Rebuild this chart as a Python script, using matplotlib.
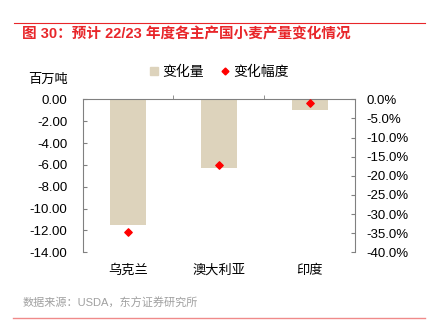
import matplotlib.pyplot as plt
from matplotlib.lines import Line2D
from matplotlib.ticker import FuncFormatter

plt.rcParams['font.family'] = ['Liberation Sans', 'Noto Sans CJK SC']

countries = ['乌克兰', '澳大利亚', '印度']
change = [-11.5, -6.3, -1.0]          # 百万吨
change_pct = [-0.348, -0.173, -0.009]  # 变化幅度

bar_color = '#DDD3BC'
grey = '#808080'

fig = plt.figure(figsize=(4.3, 3.28), dpi=100)
ax = fig.add_axes([0.192, 0.231, 0.634, 0.466])

x = range(len(countries))
ax.bar(x, change, width=0.4, color=bar_color)
ax.set_xlim(-0.5, 2.5)
ax.set_ylim(-14, 0)
ax.set_yticks([0, -2, -4, -6, -8, -10, -12, -14])
ax.yaxis.set_major_formatter(FuncFormatter(lambda v, p: f'{v:.2f}'))
ax.set_xticks(list(x))
ax.set_xticklabels(countries, fontsize=9.5)
ax.set_xticks([0.5, 1.5], minor=True)
ax.tick_params(axis='x', which='major', length=0, pad=9)
ax.tick_params(axis='x', which='minor', top=True, bottom=False, direction='out', length=3, color=grey)
ax.tick_params(axis='y', direction='in', length=3, color=grey, labelsize=9.5, pad=11)
for s in ['bottom', 'right']:
    ax.spines[s].set_visible(False)
for s in ['top', 'left']:
    ax.spines[s].set_color(grey)
    ax.spines[s].set_linewidth(0.8)

ax2 = ax.twinx()
ax2.scatter(x, change_pct, marker='D', s=14, color='#FF0000', zorder=3)
ax2.set_ylim(-0.40, 0)
ax2.set_yticks([0, -0.05, -0.10, -0.15, -0.20, -0.25, -0.30, -0.35, -0.40])
ax2.yaxis.set_major_formatter(FuncFormatter(lambda v, p: f'{v*100:.1f}%'))
ax2.tick_params(axis='y', direction='in', length=3, color=grey, labelsize=9.5, pad=8)
for s in ['bottom', 'left', 'top']:
    ax2.spines[s].set_visible(False)
ax2.spines['right'].set_color(grey)
ax2.spines['right'].set_linewidth(0.8)

handles = [Line2D([], [], marker='s', color=bar_color, linestyle='', markersize=5.5, label='变化量'),
           Line2D([], [], marker='D', color='#FF0000', linestyle='', markersize=3.5, label='变化幅度')]
fig.legend(handles=handles, loc='center', bbox_to_anchor=(0.51, 0.78), ncol=2, frameon=False,
           fontsize=10, handlelength=0.6, handletextpad=0.3, columnspacing=1.2)

fig.text(0.065, 0.758, '百万吨', fontsize=9.5, va='center')

fig.text(0.052, 0.896, '图 30：预计 22/23 年度各主产国小麦产量变化情况', fontsize=10.5, color='#E8262A',
         va='center', fontweight='bold')
fig.add_artist(Line2D([0.033, 0.988], [0.93, 0.93], color='#E8262A', linewidth=0.8))
fig.text(0.052, 0.076, '数据来源：USDA，东方证券研究所', fontsize=8, color='#A0A0A0', va='center')
fig.add_artist(Line2D([0.03, 0.988], [0.03, 0.03], color='#F08A8A', linewidth=1.0))

fig.savefig('out.png', dpi=100)
